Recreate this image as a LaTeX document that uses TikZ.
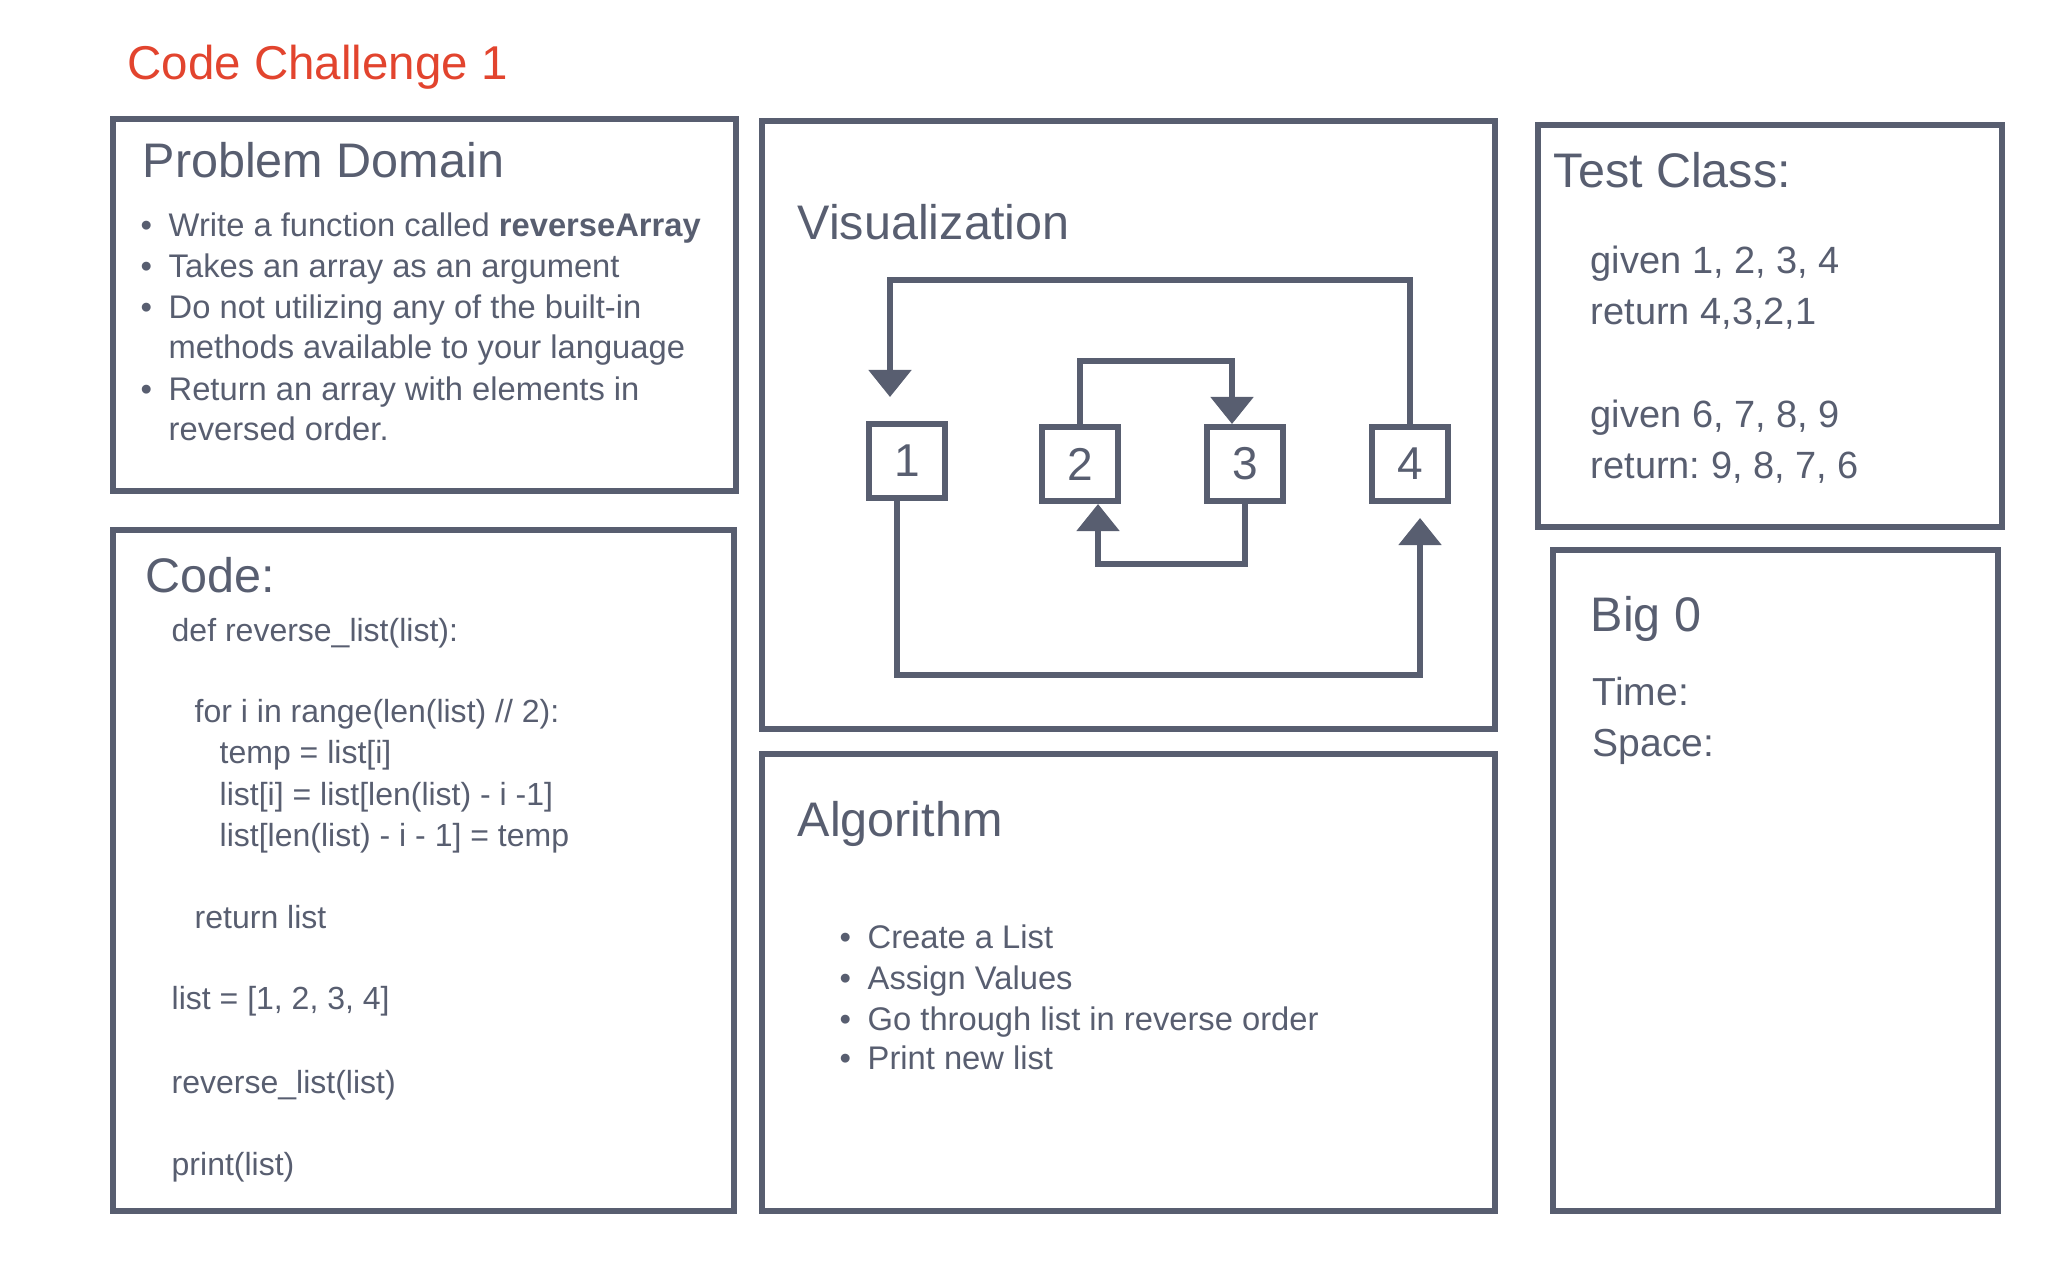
\documentclass[tikz,border=0pt]{standalone}
\usepackage{fontspec}
\setmainfont{Liberation Sans}
\usetikzlibrary{arrows.meta}
\frenchspacing
\definecolor{ink}{RGB}{88,94,112}
\definecolor{challenge}{RGB}{226,68,46}
\newcommand{\bul}{\makebox[2.8mm][l]{•}}
\tikzstyle{panel}=[draw=ink,line width=1.7pt]
\tikzstyle{cell}=[draw=ink,line width=1.7pt,minimum width=7.6mm,minimum height=7.4mm,inner sep=0pt,text=ink,font=\fontsize{13.1}{15}\selectfont]
\tikzstyle{link}=[draw=ink,line width=1.5pt,-{Triangle[width=4.2mm,length=2.7mm]}]
\tikzstyle{txt}=[anchor=base west,inner sep=0pt,text=ink]
\tikzstyle{heading}=[txt,font=\fontsize{13.8}{16}\selectfont]
\tikzstyle{item}=[txt,font=\fontsize{9.3}{11}\selectfont]
\tikzstyle{codeline}=[txt,font=\fontsize{9.1}{11}\selectfont]
\tikzstyle{testline}=[txt,font=\fontsize{10.8}{13}\selectfont]
\tikzstyle{bigoline}=[txt,font=\fontsize{11.1}{13}\selectfont]

\begin{document}
\begin{tikzpicture}[x=0.01cm,y=-0.01cm]
\useasboundingbox (0,0) rectangle (2046,1276);

\node[txt, text=challenge, font=\fontsize{13.5}{16}\selectfont] (title) at (127, 80) {Code Challenge 1};

\draw[panel] (113, 119) rectangle (736, 491);
\draw[panel] (762, 121) rectangle (1495, 729);
\draw[panel] (113, 530) rectangle (734, 1211);
\draw[panel] (762, 754) rectangle (1495, 1211);
\draw[panel] (1538, 125) rectangle (2002, 527);
\draw[panel] (1553, 550) rectangle (1998, 1211);

\node[heading] (pdhead) at (142, 178) {Problem Domain};
\node[item] (pd1) at (140, 236) {\bul Write a function called \textbf{reverseArray}};
\node[item] (pd2) at (140, 277) {\bul Takes an array as an argument};
\node[item] (pd3) at (140, 318) {\bul Do not utilizing any of the built-in};
\node[item] (pd3b) at (168, 358) {methods available to your language};
\node[item] (pd4) at (140, 400) {\bul Return an array with elements in};
\node[item] (pd4b) at (168, 440) {reversed order.};

\node[heading] (codehead) at (145, 592) {Code:};
\node[codeline] (c1) at (171, 641) {def reverse\_list(list):};
\node[codeline] (c2) at (194, 722) {for i in range(len(list) // 2):};
\node[codeline] (c3) at (219, 763) {temp = list[i]};
\node[codeline] (c4) at (219, 805) {list[i] = list[len(list) - i -1]};
\node[codeline] (c5) at (219, 846) {list[len(list) - i - 1] = temp};
\node[codeline] (c6) at (194, 928) {return list};
\node[codeline] (c7) at (171, 1009) {list = [1, 2, 3, 4]};
\node[codeline] (c8) at (171, 1093) {reverse\_list(list)};
\node[codeline] (c9) at (171, 1175) {print(list)};

\node[heading] (vishead) at (797, 239) {Visualization};
\node[cell] (b1) at (907, 461) {1};
\node[cell] (b2) at (1080, 464) {2};
\node[cell] (b3) at (1245, 464) {3};
\node[cell] (b4) at (1410, 464) {4};

\draw[link, shorten >=2.4mm] (b4.north) -- ++(0, -144) -| ([xshift=-1.7mm]b1.north);
\draw[link] (b2.north) -- ++(0, -63) -| ([xshift=-1.3mm]b3.north);
\draw[link] (b3.south) -- ++(0, 60) -| ([xshift=1.8mm]b2.south);
\draw[link, shorten >=1.4mm] ([xshift=-1mm]b1.south) -- ++(0, 174) -| ([xshift=1mm]b4.south);

\node[heading] (alghead) at (797, 836) {Algorithm};
\node[item] (a1) at (839, 948) {\bul Create a List};
\node[item] (a2) at (839, 989) {\bul Assign Values};
\node[item] (a3) at (839, 1030) {\bul Go through list in reverse order};
\node[item] (a4) at (839, 1069) {\bul Print new list};

\node[heading] (testhead) at (1553, 188) {Test Class:};
\node[testline] (t1) at (1590, 273) {given 1, 2, 3, 4};
\node[testline] (t2) at (1590, 324) {return 4,3,2,1};
\node[testline] (t3) at (1590, 427) {given 6, 7, 8, 9};
\node[testline] (t4) at (1590, 478) {return: 9, 8, 7, 6};

\node[heading] (bigohead) at (1590, 631) {Big 0};
\node[bigoline] (time) at (1592, 705) {Time:};
\node[bigoline] (space) at (1592, 756) {Space:};

\end{tikzpicture}
\end{document}
